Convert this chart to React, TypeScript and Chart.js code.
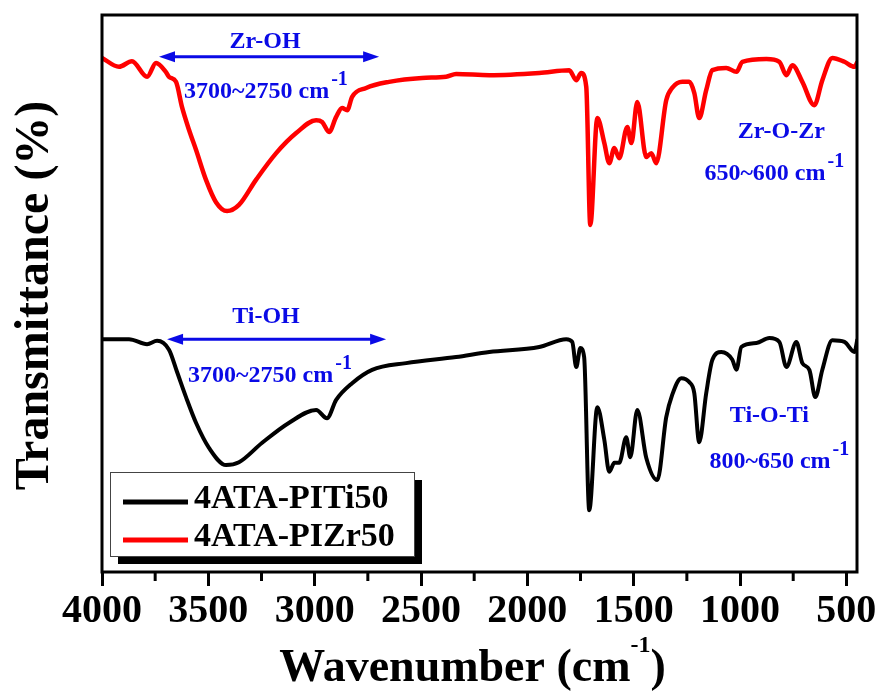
import React, { useEffect, useRef } from "react";
import { Chart, registerables } from "chart.js";

Chart.register(...registerables);

// ---- Data (wavenumber in cm-1, transmittance in arbitrary %) ----
const ti50Wavenumber = [
  4000, 3873, 3788, 3741, 3685, 3647, 3605, 3558, 3497, 3417, 3356, 3247, 3120, 2993, 2942, 2899, 2824, 2730,
  2570, 2335, 2179, 1944, 1817, 1789, 1770, 1751, 1733, 1709, 1671, 1638, 1615, 1591, 1568, 1535, 1516, 1483,
  1441, 1389, 1347, 1319, 1276, 1239, 1215, 1192, 1159, 1130, 1088, 1036, 1017, 994, 923, 862, 815, 782, 735,
  707, 674, 646, 613, 566, 509, 462, 448,
];
const ti50Transmittance = [
  41.8, 41.8, 40.9, 41.5, 39.9, 35.9, 31.4, 26.8, 22.3, 19.2, 19.7, 23.2, 26.8, 29.1, 27.6, 30.9, 33.9, 36.3,
  37.5, 38.6, 39.5, 40.4, 41.8, 41.3, 36.8, 40.2, 38.6, 11.1, 29.6, 23.7, 18.0, 19.6, 19.6, 24.2, 20.6, 29.1,
  20.5, 16.5, 27.8, 31.8, 34.8, 34.1, 32.1, 23.3, 32.1, 38.1, 39.5, 38.1, 36.3, 40.4, 41.1, 42.0, 41.3, 36.8,
  41.3, 37.5, 36.3, 31.4, 36.3, 41.6, 41.3, 39.5, 41.8,
];

const zr50Wavenumber = [
  4000, 3920, 3859, 3788, 3746, 3700, 3685, 3652, 3624, 3591, 3558, 3511, 3464, 3412, 3356, 3276, 3181, 3087,
  2993, 2965, 2932, 2899, 2871, 2847, 2824, 2758, 2650, 2495, 2382, 2335, 2179, 1944, 1803, 1770, 1747, 1723,
  1704, 1671, 1638, 1615, 1591, 1568, 1530, 1511, 1483, 1441, 1417, 1394, 1347, 1319, 1271, 1239, 1215, 1192,
  1159, 1130, 1065, 1017, 989, 876, 815, 782, 754, 707, 651, 613, 566, 509, 462, 448,
];
const zr50Transmittance = [
  92.3, 90.7, 91.7, 88.9, 91.4, 89.8, 88.9, 88.0, 83.5, 79.4, 75.8, 70.4, 66.4, 64.8, 65.9, 70.4, 75.2, 78.8,
  81.1, 80.8, 79.0, 81.7, 83.3, 82.9, 85.3, 86.9, 88.0, 88.7, 88.9, 89.4, 89.2, 89.6, 90.1, 88.3, 89.6, 87.1,
  62.3, 81.5, 77.0, 73.4, 76.1, 74.3, 79.9, 77.0, 84.4, 74.5, 75.2, 73.4, 84.7, 86.9, 88.0, 88.0, 86.0, 81.5,
  86.5, 90.1, 90.5, 89.8, 91.6, 92.1, 91.6, 89.2, 91.0, 88.0, 83.8, 88.3, 92.3, 91.6, 90.7, 91.6,
];

const seriesLabels = ["4ATA-PITi50", "4ATA-PIZr50"];
const seriesColors = ["#000000", "#ff0000"];

const xMajorTicks = [4000, 3500, 3000, 2500, 2000, 1500, 1000, 500];
const xMinorTicks = [3750, 3250, 2750, 2250, 1750, 1250, 750];

const xTitle = "Wavenumber (cm";
const xTitleSup = "-1";
const xTitleEnd = ")";
const yTitle = "Transmittance (%)";

// annotations: label, wavenumber center, transmittance baseline
const bandLabels = [
  { text: "Zr-OH", w: 3233, t: 94.1 },
  { text: "Ti-OH", w: 3229, t: 44.7 },
  { text: "Zr-O-Zr", w: 806, t: 77.9 },
  { text: "Ti-O-Ti", w: 862, t: 26.9 },
];
const rangeLabels = [
  { text: "3700~2750 cm", w: 3229, t: 85.1 },
  { text: "3700~2750 cm", w: 3210, t: 34.1 },
  { text: "650~600 cm", w: 839, t: 70.4 },
  { text: "800~650 cm", w: 815, t: 18.7 },
];
const rangeArrows = [
  { from: 3732, to: 2697, t: 92.5 },
  { from: 3694, to: 2664, t: 41.8 },
];

const FONT = "'Liberation Serif', 'Times New Roman', serif";
const BLUE = "#0a0ae6";

const decorPlugin = {
  id: "decor",
  afterDraw(chart: any) {
    const { ctx, chartArea: a, scales } = chart;
    const x = scales.x;
    const y = scales.y;
    ctx.save();

    // frame
    ctx.strokeStyle = "#000";
    ctx.lineWidth = 3;
    ctx.strokeRect(a.left, a.top, a.right - a.left, a.bottom - a.top);

    // minor ticks
    ctx.lineWidth = 3;
    for (const w of xMinorTicks) {
      const px = x.getPixelForValue(w);
      ctx.beginPath();
      ctx.moveTo(px, a.bottom);
      ctx.lineTo(px, a.bottom + 9);
      ctx.stroke();
    }

    // annotations
    ctx.fillStyle = BLUE;
    ctx.strokeStyle = BLUE;
    ctx.textBaseline = "alphabetic";
    ctx.font = `bold 24px ${FONT}`;
    ctx.textAlign = "center";
    for (const b of bandLabels) {
      ctx.fillText(b.text, x.getPixelForValue(b.w), y.getPixelForValue(b.t));
    }
    for (const r of rangeLabels) {
      ctx.font = `bold 24px ${FONT}`;
      const w1 = ctx.measureText(r.text).width;
      ctx.font = `bold 20px ${FONT}`;
      const w2 = ctx.measureText("-1").width;
      const cx = x.getPixelForValue(r.w);
      const by = y.getPixelForValue(r.t);
      const sx = cx - (w1 + w2 + 2) / 2;
      ctx.textAlign = "left";
      ctx.font = `bold 24px ${FONT}`;
      ctx.fillText(r.text, sx, by);
      ctx.font = `bold 20px ${FONT}`;
      ctx.fillText("-1", sx + w1 + 2, by - 13);
    }
    ctx.lineWidth = 3;
    for (const ar of rangeArrows) {
      const x1 = x.getPixelForValue(ar.from);
      const x2 = x.getPixelForValue(ar.to);
      const py = y.getPixelForValue(ar.t);
      const head = 16;
      ctx.beginPath();
      ctx.moveTo(x1 + head - 2, py);
      ctx.lineTo(x2 - head + 2, py);
      ctx.stroke();
      ctx.beginPath();
      ctx.moveTo(x1, py);
      ctx.lineTo(x1 + head, py - 5.5);
      ctx.lineTo(x1 + head, py + 5.5);
      ctx.closePath();
      ctx.fill();
      ctx.beginPath();
      ctx.moveTo(x2, py);
      ctx.lineTo(x2 - head, py - 5.5);
      ctx.lineTo(x2 - head, py + 5.5);
      ctx.closePath();
      ctx.fill();
    }

    // legend
    const L = a.left + 8;
    const T = a.bottom - 100;
    const W = 304;
    const H = 84;
    ctx.fillStyle = "#000";
    ctx.fillRect(L + 8, T + 8, W, H);
    ctx.fillStyle = "#fff";
    ctx.fillRect(L, T, W, H);
    ctx.strokeStyle = "#444";
    ctx.lineWidth = 1;
    ctx.strokeRect(L + 0.5, T + 0.5, W, H);
    chart.data.datasets.forEach((ds: any, i: number) => {
      const ly = T + 30 + i * 38;
      ctx.strokeStyle = ds.borderColor;
      ctx.lineWidth = 5;
      ctx.beginPath();
      ctx.moveTo(L + 13, ly);
      ctx.lineTo(L + 78, ly);
      ctx.stroke();
      ctx.fillStyle = "#000";
      ctx.font = `bold 34px ${FONT}`;
      ctx.textAlign = "left";
      ctx.textBaseline = "alphabetic";
      ctx.fillText(ds.label, L + 84, ly + 6);
    });

    // x title
    ctx.fillStyle = "#000";
    ctx.textAlign = "left";
    ctx.textBaseline = "alphabetic";
    ctx.font = `bold 46px ${FONT}`;
    const t1 = ctx.measureText(xTitle).width;
    const t3 = ctx.measureText(xTitleEnd).width;
    ctx.font = `bold 24px ${FONT}`;
    const t2 = ctx.measureText(xTitleSup).width;
    const total = t1 + t2 + t3;
    const cx = (a.left + a.right) / 2 - 7;
    const sx = cx - total / 2;
    const by = 681;
    ctx.font = `bold 46px ${FONT}`;
    ctx.fillText(xTitle, sx, by);
    ctx.font = `bold 24px ${FONT}`;
    ctx.fillText(xTitleSup, sx + t1, by - 29);
    ctx.font = `bold 46px ${FONT}`;
    ctx.fillText(xTitleEnd, sx + t1 + t2, by);

    // y title
    ctx.translate(36, (a.top + a.bottom) / 2 + 2);
    ctx.rotate(-Math.PI / 2);
    ctx.textAlign = "center";
    ctx.textBaseline = "middle";
    ctx.font = `bold 48px ${FONT}`;
    ctx.fillText(yTitle, 0, 0);

    ctx.restore();
  },
};

export default function App() {
  const ref = useRef<HTMLCanvasElement | null>(null);
  useEffect(() => {
    if (!ref.current) return;
    const chart = new Chart(ref.current, {
      type: "line",
      data: {
        datasets: [
          {
            label: seriesLabels[0],
            data: ti50Wavenumber.map((w, i) => ({ x: w, y: ti50Transmittance[i] })),
            borderColor: seriesColors[0],
            backgroundColor: seriesColors[0],
            borderWidth: 4,
            pointRadius: 0,
            cubicInterpolationMode: "monotone",
          },
          {
            label: seriesLabels[1],
            data: zr50Wavenumber.map((w, i) => ({ x: w, y: zr50Transmittance[i] })),
            borderColor: seriesColors[1],
            backgroundColor: seriesColors[1],
            borderWidth: 4.5,
            pointRadius: 0,
            cubicInterpolationMode: "monotone",
          },
        ],
      },
      options: {
        animation: false,
        responsive: true,
        maintainAspectRatio: false,
        layout: { padding: { left: 102, top: 15, right: 29, bottom: 0 } },
        plugins: { legend: { display: false }, tooltip: { enabled: false } },
        scales: {
          x: {
            type: "linear",
            reverse: true,
            min: 450,
            max: 4000,
            afterFit: (s: any) => {
              s.height = 126;
            },
            afterBuildTicks: (s: any) => {
              s.ticks = xMajorTicks.map((v) => ({ value: v }));
            },
            border: { display: false },
            grid: {
              display: true,
              drawOnChartArea: false,
              drawTicks: true,
              tickLength: 14,
              tickWidth: 3,
              tickColor: "#000",
            },
            ticks: {
              color: "#000",
              padding: 2,
              maxRotation: 0,
              autoSkip: false,
              callback: (v: any) => String(v),
              font: { family: FONT, size: 40, weight: "bold" },
            },
          },
          y: {
            display: false,
            min: 0,
            max: 100,
          },
        },
      },
      plugins: [decorPlugin],
    });
    return () => chart.destroy();
  }, []);
  return (
    <div style={{ position: "absolute", left: 0, top: 0, width: 886, height: 698, background: "#fff" }}>
      <canvas ref={ref} />
    </div>
  );
}
